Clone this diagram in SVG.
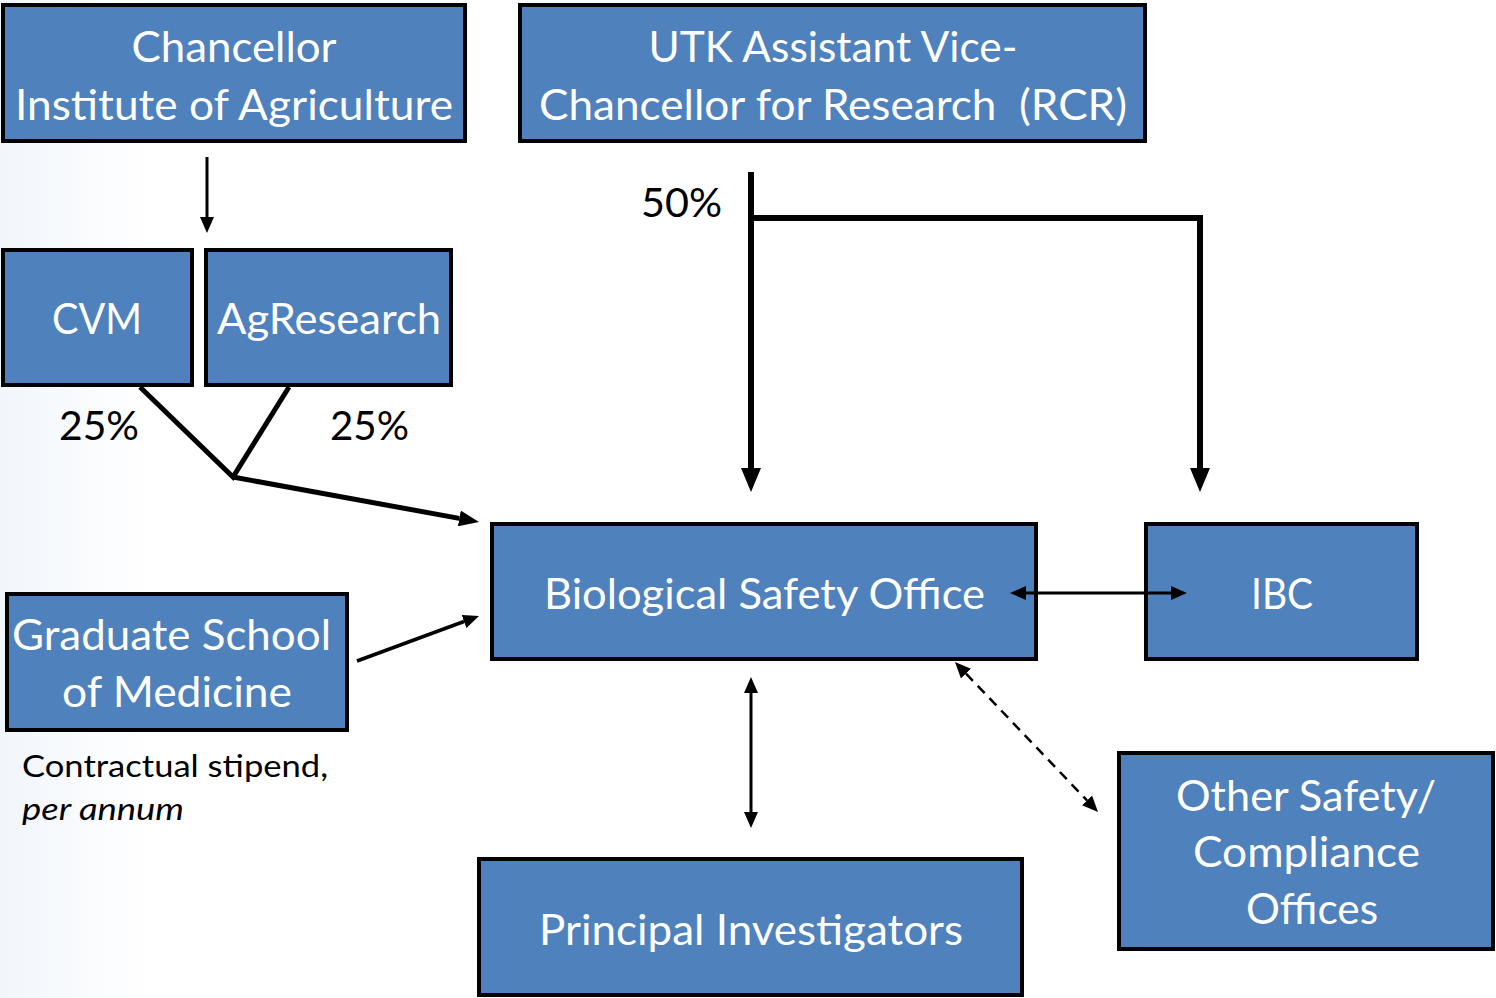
<svg xmlns="http://www.w3.org/2000/svg" width="1496" height="998" viewBox="0 0 1496 998">
  <defs>
    <linearGradient id="bg" x1="0" y1="0" x2="1" y2="0">
      <stop offset="0" stop-color="#f1f6fc"/>
      <stop offset="0.1" stop-color="#ffffff"/>
      <stop offset="1" stop-color="#ffffff"/>
    </linearGradient>
    <marker id="big" viewBox="0 -10 24 20" refX="0" refY="0" markerWidth="24" markerHeight="20" markerUnits="userSpaceOnUse" orient="auto-start-reverse">
      <path d="M0,-10 L24,0 L0,10 z" fill="#000"/>
    </marker>
    <marker id="mid" viewBox="0 -8 20 16" refX="0" refY="0" markerWidth="20" markerHeight="16" markerUnits="userSpaceOnUse" orient="auto-start-reverse">
      <path d="M0,-8 L20,0 L0,8 z" fill="#000"/>
    </marker>
    <marker id="small" viewBox="0 -7 16 14" refX="0" refY="0" markerWidth="16" markerHeight="14" markerUnits="userSpaceOnUse" orient="auto-start-reverse">
      <path d="M0,-7 L16,0 L0,7 z" fill="#000"/>
    </marker>
  </defs>
  <style>
    .box { fill: #4f81bd; stroke: #000; stroke-width: 4; }
    .lbl { font-family: Lato, "Open Sans", "Liberation Sans", sans-serif; font-size: 43px; fill: #fff; text-anchor: middle; }
    .pct { font-family: Lato, "Open Sans", "Liberation Sans", sans-serif; font-size: 41px; fill: #000; }
    .note { font-family: Lato, "Open Sans", "Liberation Sans", sans-serif; font-size: 31px; fill: #000; }
    .c { fill: none; stroke: #000; }
  </style>
  <rect x="0" y="0" width="1496" height="998" fill="url(#bg)"/>

  <g id="chancellor">
    <rect class="box" x="3" y="5" width="462" height="136"/>
    <text class="lbl" x="234" y="62" textLength="205" lengthAdjust="spacingAndGlyphs">Chancellor</text>
    <text class="lbl" x="234" y="120" textLength="438" lengthAdjust="spacingAndGlyphs">Institute of Agriculture</text>
  </g>
  <g id="utk">
    <rect class="box" x="520" y="5" width="625" height="136"/>
    <text class="lbl" x="833" y="62" textLength="369" lengthAdjust="spacingAndGlyphs">UTK Assistant Vice-</text>
    <text class="lbl" x="833" y="120" textLength="588" lengthAdjust="spacingAndGlyphs" xml:space="preserve">Chancellor for Research  (RCR)</text>
  </g>
  <g id="cvm">
    <rect class="box" x="3" y="250" width="189" height="135"/>
    <text class="lbl" x="97" y="334" textLength="90" lengthAdjust="spacingAndGlyphs">CVM</text>
  </g>
  <g id="agresearch">
    <rect class="box" x="206" y="250" width="245" height="135"/>
    <text class="lbl" x="329" y="334" textLength="224" lengthAdjust="spacingAndGlyphs">AgResearch</text>
  </g>
  <g id="bso">
    <rect class="box" x="492" y="524" width="544" height="135"/>
    <text class="lbl" x="764.5" y="609" textLength="441" lengthAdjust="spacingAndGlyphs">Biological Safety Office</text>
  </g>
  <g id="ibc">
    <rect class="box" x="1146" y="524" width="271" height="135"/>
    <text class="lbl" x="1282" y="609" textLength="62" lengthAdjust="spacingAndGlyphs">IBC</text>
  </g>
  <g id="gradschool">
    <rect class="box" x="7" y="594" width="340" height="136"/>
    <text class="lbl" x="171.5" y="650" textLength="319" lengthAdjust="spacingAndGlyphs">Graduate School</text>
    <text class="lbl" x="177" y="707" textLength="230" lengthAdjust="spacingAndGlyphs">of Medicine</text>
  </g>
  <g id="other">
    <rect class="box" x="1119" y="753" width="374" height="196"/>
    <text class="lbl" x="1306" y="811" textLength="260" lengthAdjust="spacingAndGlyphs">Other Safety/</text>
    <text class="lbl" x="1306.5" y="867" textLength="227" lengthAdjust="spacingAndGlyphs">Compliance</text>
    <text class="lbl" x="1312" y="924" textLength="132" lengthAdjust="spacingAndGlyphs">Offices</text>
  </g>
  <g id="pi">
    <rect class="box" x="479" y="859" width="543" height="136"/>
    <text class="lbl" x="751" y="945" textLength="424" lengthAdjust="spacingAndGlyphs">Principal Investigators</text>
  </g>

  <g id="connectors">
    <line class="c" x1="207" y1="157" x2="207" y2="217" stroke-width="3" marker-end="url(#small)"/>
    <line class="c" x1="751" y1="172" x2="751" y2="468" stroke-width="6" marker-end="url(#big)"/>
    <polyline class="c" points="751,218 1200,218 1200,468" stroke-width="6" marker-end="url(#big)"/>
    <polyline class="c" points="140,387 233,477 289,387" stroke-width="5" stroke-linejoin="miter"/>
    <line class="c" x1="233" y1="477" x2="459.3" y2="518.4" stroke-width="5" marker-end="url(#mid)"/>
    <line class="c" x1="357" y1="661" x2="464" y2="621.5" stroke-width="3.5" marker-end="url(#small)"/>
    <line class="c" x1="1026" y1="593" x2="1171" y2="593" stroke-width="3" marker-start="url(#small)" marker-end="url(#small)"/>
    <line class="c" x1="751" y1="693" x2="751" y2="812" stroke-width="3" marker-start="url(#small)" marker-end="url(#small)"/>
    <line class="c" x1="966" y1="673.6" x2="1087" y2="800.4" stroke-width="2.5" stroke-dasharray="10,7" marker-start="url(#small)" marker-end="url(#small)"/>
  </g>

  <g id="labels">
    <text class="pct" x="641" y="217" textLength="81" lengthAdjust="spacingAndGlyphs">50%</text>
    <text class="pct" x="59" y="440" textLength="80" lengthAdjust="spacingAndGlyphs">25%</text>
    <text class="pct" x="330" y="440" textLength="79" lengthAdjust="spacingAndGlyphs">25%</text>
    <text class="note" x="22" y="777" textLength="306" lengthAdjust="spacingAndGlyphs">Contractual stipend,</text>
    <text class="note" x="22" y="820" font-style="italic" textLength="162" lengthAdjust="spacingAndGlyphs">per annum</text>
  </g>
</svg>
